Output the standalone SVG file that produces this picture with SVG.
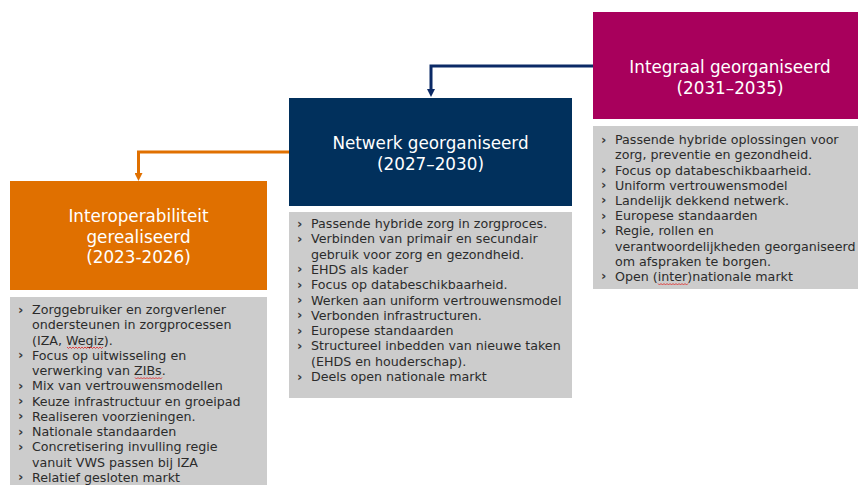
<svg xmlns="http://www.w3.org/2000/svg" width="859" height="485" viewBox="0 0 859 485">
<style>
.hdr{font-family:"DejaVu Sans","Liberation Sans",sans-serif;font-size:16.8px;fill:#ffffff;text-anchor:middle}
.lst{font-family:"DejaVu Sans","Liberation Sans",sans-serif;font-size:12.67px;fill:#2b2b2b}
.bul{font-family:"DejaVu Sans","Liberation Sans",sans-serif;font-size:13px;font-weight:bold;fill:#3a3a3a}
.panel{fill:#cccccc}
.spell{fill:none;stroke:#e02020;stroke-width:0.8}
</style>
<defs>
<marker id="ahNavy" markerWidth="8" markerHeight="8" refX="1" refY="4" orient="auto" markerUnits="userSpaceOnUse" viewBox="0 0 8 8">
<path d="M0,0 L8,4 L0,8 Z" fill="#0b2a66"/>
</marker>
<marker id="ahOrange" markerWidth="8" markerHeight="8" refX="1" refY="4" orient="auto" markerUnits="userSpaceOnUse" viewBox="0 0 8 8">
<path d="M0,0 L8,4 L0,8 Z" fill="#e07000"/>
</marker>
</defs>
<rect width="859" height="485" fill="#ffffff"/>

<g id="connectors">
<path d="M593,66 L431,66 L431,90" fill="none" stroke="#0b2a66" stroke-width="3" marker-end="url(#ahNavy)"/>
<path d="M289,152 L138.5,152 L138.5,174" fill="none" stroke="#e07000" stroke-width="3" marker-end="url(#ahOrange)"/>
</g>

<g id="node-interoperabiliteit">
<rect x="10" y="181" width="257" height="109" fill="#e07000"/>
<text class="hdr"><tspan x="138.5" y="222">Interoperabiliteit</tspan><tspan x="138.5" y="242.5">gerealiseerd</tspan><tspan x="138.5" y="263">(2023-2026)</tspan></text>
</g>
<g id="list-interoperabiliteit">
<rect class="panel" x="10" y="297" width="257" height="190"/>
<text class="bul"><tspan x="18" y="313.5">›</tspan><tspan x="18" y="359.3">›</tspan><tspan x="18" y="389.8">›</tspan><tspan x="18" y="405.1">›</tspan><tspan x="18" y="420.3">›</tspan><tspan x="18" y="435.6">›</tspan><tspan x="18" y="450.9">›</tspan><tspan x="18" y="481.4">›</tspan></text>
<text class="lst"><tspan x="32" y="314">Zorggebruiker en zorgverlener</tspan><tspan x="32" y="329.3">ondersteunen in zorgprocessen</tspan><tspan x="32" y="344.5">(IZA, Wegiz).</tspan><tspan x="32" y="359.8">Focus op uitwisseling en</tspan><tspan x="32" y="375.1">verwerking van ZIBs.</tspan><tspan x="32" y="390.3">Mix van vertrouwensmodellen</tspan><tspan x="32" y="405.6">Keuze infrastructuur en groeipad</tspan><tspan x="32" y="420.8">Realiseren voorzieningen.</tspan><tspan x="32" y="436.1">Nationale standaarden</tspan><tspan x="32" y="451.4">Concretisering invulling regie</tspan><tspan x="32" y="466.6">vanuit VWS passen bij IZA</tspan><tspan x="32" y="481.9">Relatief gesloten markt</tspan></text>
<path class="spell" d="M67,347 l1.5,1.5 l1.5,-1.5 l1.5,1.5 l1.5,-1.5 l1.5,1.5 l1.5,-1.5 l1.5,1.5 l1.5,-1.5 l1.5,1.5 l1.5,-1.5 l1.5,1.5 l1.5,-1.5 l1.5,1.5 l1.5,-1.5 l1.5,1.5 l1.5,-1.5 l1.5,1.5 l1.5,-1.5 l1.5,1.5 l1.5,-1.5 l1.5,1.5 l1.5,-1.5 l1.5,1.5 l1.5,-1.5"/>
<path class="spell" d="M135,377.5 l1.5,1.5 l1.5,-1.5 l1.5,1.5 l1.5,-1.5 l1.5,1.5 l1.5,-1.5 l1.5,1.5 l1.5,-1.5 l1.5,1.5 l1.5,-1.5 l1.5,1.5 l1.5,-1.5 l1.5,1.5 l1.5,-1.5 l1.5,1.5 l1.5,-1.5 l1.5,1.5 l1.5,-1.5"/>
</g>

<g id="node-netwerk">
<rect x="289" y="98" width="283" height="108" fill="#01305c"/>
<text class="hdr"><tspan x="430.5" y="149">Netwerk georganiseerd</tspan><tspan x="430.5" y="170">(2027–2030)</tspan></text>
</g>
<g id="list-netwerk">
<rect class="panel" x="289" y="212" width="283" height="186"/>
<text class="bul"><tspan x="297" y="227.5">›</tspan><tspan x="297" y="242.8">›</tspan><tspan x="297" y="273.4">›</tspan><tspan x="297" y="288.7">›</tspan><tspan x="297" y="304">›</tspan><tspan x="297" y="319.3">›</tspan><tspan x="297" y="334.6">›</tspan><tspan x="297" y="349.9">›</tspan><tspan x="297" y="380.5">›</tspan></text>
<text class="lst"><tspan x="311" y="228">Passende hybride zorg in zorgproces.</tspan><tspan x="311" y="243.3">Verbinden van primair en secundair</tspan><tspan x="311" y="258.6">gebruik voor zorg en gezondheid.</tspan><tspan x="311" y="273.9">EHDS als kader</tspan><tspan x="311" y="289.2">Focus op databeschikbaarheid.</tspan><tspan x="311" y="304.5">Werken aan uniform vertrouwensmodel</tspan><tspan x="311" y="319.8">Verbonden infrastructuren.</tspan><tspan x="311" y="335.1">Europese standaarden</tspan><tspan x="311" y="350.4">Structureel inbedden van nieuwe taken</tspan><tspan x="311" y="365.7">(EHDS en houderschap).</tspan><tspan x="311" y="381">Deels open nationale markt</tspan></text>
</g>

<g id="node-integraal">
<rect x="593" y="12" width="265" height="107" fill="#a8005c"/>
<text class="hdr"><tspan x="730" y="73">Integraal georganiseerd</tspan><tspan x="730" y="94">(2031–2035)</tspan></text>
</g>
<g id="list-integraal">
<rect class="panel" x="593" y="126" width="265" height="163"/>
<text class="bul"><tspan x="601" y="143.5">›</tspan><tspan x="601" y="174">›</tspan><tspan x="601" y="189.2">›</tspan><tspan x="601" y="204.4">›</tspan><tspan x="601" y="219.6">›</tspan><tspan x="601" y="234.8">›</tspan><tspan x="601" y="280.4">›</tspan></text>
<text class="lst"><tspan x="615" y="144">Passende hybride oplossingen voor</tspan><tspan x="615" y="159.2">zorg, preventie en gezondheid.</tspan><tspan x="615" y="174.5">Focus op databeschikbaarheid.</tspan><tspan x="615" y="189.7">Uniform vertrouwensmodel</tspan><tspan x="615" y="204.9">Landelijk dekkend netwerk.</tspan><tspan x="615" y="220.1">Europese standaarden</tspan><tspan x="615" y="235.3">Regie, rollen en</tspan><tspan x="615" y="250.5">verantwoordelijkheden georganiseerd</tspan><tspan x="615" y="265.7">om afspraken te borgen.</tspan><tspan x="615" y="281">Open (inter)nationale markt</tspan></text>
<path class="spell" d="M658,283.5 l1.5,1.5 l1.5,-1.5 l1.5,1.5 l1.5,-1.5 l1.5,1.5 l1.5,-1.5 l1.5,1.5 l1.5,-1.5 l1.5,1.5 l1.5,-1.5 l1.5,1.5 l1.5,-1.5 l1.5,1.5 l1.5,-1.5 l1.5,1.5 l1.5,-1.5 l1.5,1.5 l1.5,-1.5 l1.5,1.5 l1.5,-1.5"/>
</g>
</svg>
